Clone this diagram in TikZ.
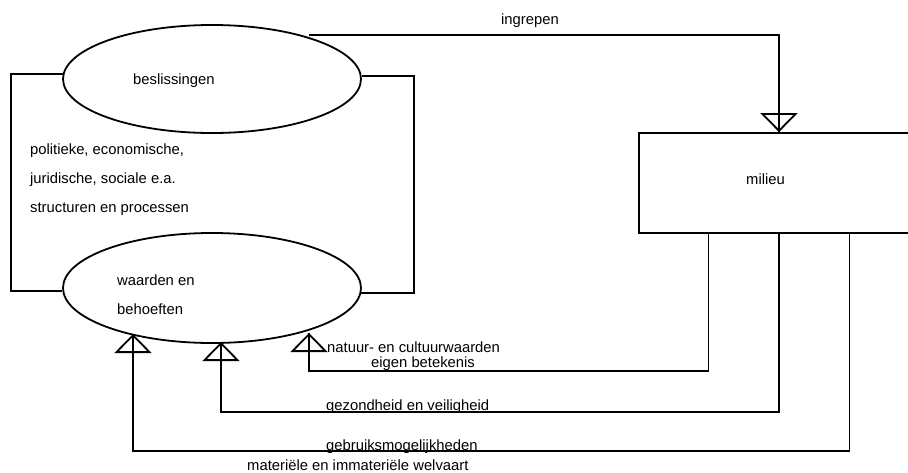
\documentclass[tikz,border=0pt]{standalone}
\usepackage{fontspec}
\setmainfont{Liberation Sans}
\usetikzlibrary{arrows.meta,calc,shapes.geometric}
\begin{document}
\begin{tikzpicture}[x=1pt,y=-1pt,
  line/.style={line width=1.8pt},
  lbl/.style={anchor=west,inner sep=0pt,font=\fontsize{14.8}{17}\selectfont},
  oval/.style={ellipse,draw,line width=1.8pt,minimum width=298pt,minimum height=108pt,inner sep=0pt},
  openhead/.style={line width=1.8pt,-{Triangle[open,length=19pt,width=37pt]}},
]
\path[use as bounding box,clip] (0,0) rectangle (908,472);

% the two ovals and the environment box
\node[oval] (beslis) at (212,79) {};
\node[oval,minimum height=110pt] (waarden) at (212,288) {};
\node[draw,line width=1.8pt,minimum width=280pt,minimum height=100pt,inner sep=0pt] (milieu) at (779,183) {};

% labels
\node[lbl] (tbeslis) at (133,81) {beslissingen};
\node[lbl] (tpol) at (30,151) {politieke, economische,};
\node[lbl] (tjur) at (30,180) {juridische, sociale e.a.};
\node[lbl] (tstr) at (30,209) {structuren en processen};
\node[lbl] (twaard) at (117,280) {waarden en};
\node[lbl] (tbeh) at (117,309) {behoeften};
\node[lbl] (ting) at (501,21) {ingrepen};
\node[lbl] (tmil) at (746,179) {milieu};
\node[lbl] (tnat) at (327,347) {natuur- en cultuurwaarden};
\node[lbl] (teig) at (371,364) {eigen betekenis};
\node[lbl] (tgez) at (326,407) {gezondheid en veiligheid};
\node[lbl] (tgeb) at (326,447) {gebruiksmogelijkheden};
\node[lbl] (tmat) at (247,465) {materiële en immateriële welvaart};

% feedback loop between the ovals
\draw[line] (beslis.178.8) -- ++(-52,0) |- (waarden.181.9);
\draw[line] (beslis.1.2) -- ++(52,0) |- (waarden.358.1);

% interventions into the environment
\coordinate (src) at (309,35);
\draw[line] (src) -| (milieu.north);
\draw[openhead] (src) -| (milieu.north);

% effects of the environment back on values and needs
\coordinate (m1) at ($(milieu.south west)!0.25!(milieu.south east)$);
\coordinate (m2) at ($(milieu.south west)!0.50!(milieu.south east)$);
\coordinate (m3) at ($(milieu.south west)!0.75!(milieu.south east)$);
\coordinate (c1) at (309,371);
\coordinate (c2) at (221,412);
\coordinate (c3) at (133,451);
\coordinate (t1) at (309,333);
\coordinate (t2) at (221,342);
\coordinate (t3) at (133,334);
\draw[line] (m1) |- (c1) -- (t1);
\draw[openhead] (c1) -- (t1);
\draw[line] (m2) |- (c2) -- (t2);
\draw[openhead] (c2) -- (t2);
\draw[line] (m3) |- (c3) -- (t3);
\draw[openhead] (c3) -- (t3);
\end{tikzpicture}
\end{document}
